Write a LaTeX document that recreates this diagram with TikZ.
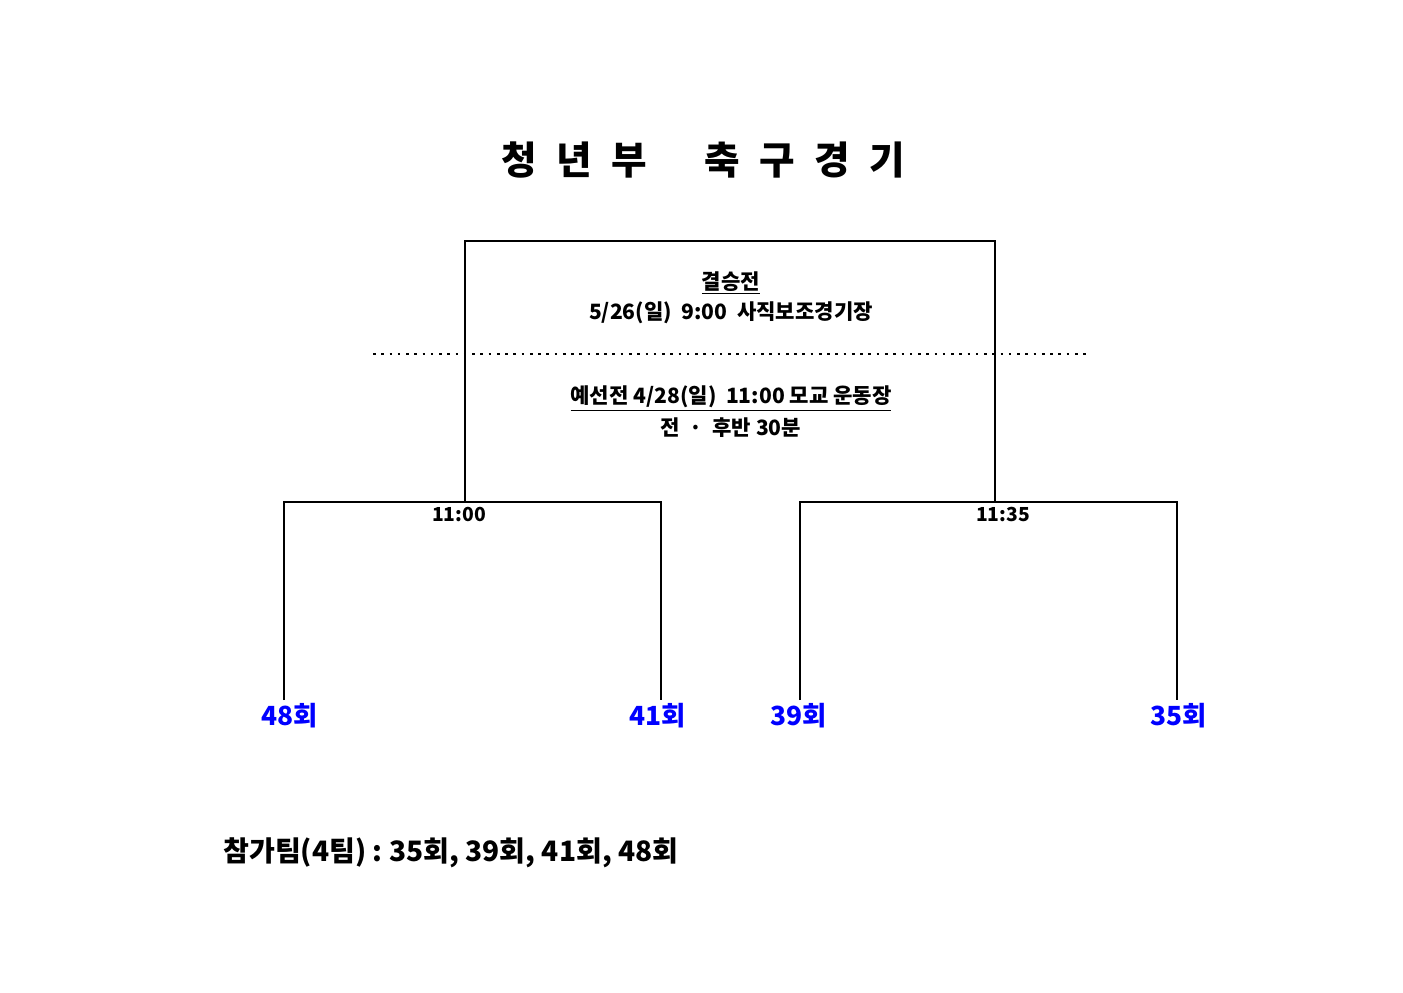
\documentclass[tikz,border=0pt]{standalone}
\usepackage{fontspec}
\setmainfont{Noto Sans CJK KR}
\usetikzlibrary{positioning}
\tikzset{
  line/.style={line width=1.2pt},
  info/.style={font=\bfseries\fontsize{12}{14}\selectfont, inner sep=1pt},
  team/.style={font=\bfseries\fontsize{15}{17}\selectfont, text=blue, inner sep=1pt},
  timelbl/.style={font=\bfseries\fontsize{11}{13}\selectfont, inner sep=1pt}
}
\newcommand{\gap}{\hspace{0.5em}}
\begin{document}
\begin{tikzpicture}[x=0.02cm,y=-0.02cm]
\useasboundingbox (0,0) rectangle (1403,992);
% title
\node[font=\bfseries\fontsize{22}{26}\selectfont] (title) at (703,160) {청\gap 년\gap 부\gap\gap\gap 축\gap 구\gap 경\gap 기};
% final
\coordinate (fl) at (465,241); \coordinate (fr) at (995,241);
\coordinate (fla) at (465,502); \coordinate (fra) at (995,502);
\draw[line] (fla) -- (fl) -- (fr) -- (fra);
\node[info] (final) at (731,283) {\underline{결승전}};
\node[info] (finalinfo) at (731,313) {5/26(일) \ 9:00 \ 사직보조경기장};
\coordinate (dl) at (373,354); \coordinate (dr) at (1088,354);
\draw[line width=1.5pt, dash pattern=on 1.5pt off 3.2pt] (dl) -- (dr);
\node[info] (prelim) at (731,399) {\underline{예선전 4/28(일) \ 11:00 모교 운동장}};
\node[info] (prelimtime) at (731,428) {전 \ · \ 후반 30분};
% semifinals
\coordinate (a1) at (284,502); \coordinate (a2) at (661,502);
\coordinate (b1) at (800,502); \coordinate (b2) at (1177,502);
\coordinate (a1d) at (284,700); \coordinate (a2d) at (661,700);
\coordinate (b1d) at (800,700); \coordinate (b2d) at (1177,700);
\draw[line] (a1d) -- (a1) -- (a2) -- (a2d);
\draw[line] (b1d) -- (b1) -- (b2) -- (b2d);
\node[timelbl] (timea) at (459,514) {11:00};
\node[timelbl] (timeb) at (1003,514) {11:35};
% teams
\node[team] (t48) at (290,716) {48회};
\node[team] (t41) at (658,716) {41회};
\node[team] (t39) at (799,716) {39회};
\node[team] (t35) at (1179,716) {35회};
% participants
\node[font=\bfseries\fontsize{16}{18}\selectfont, anchor=west, inner sep=0pt] (teams) at (223,853) {참가팀(4팀)\ :\ 35회,\ 39회,\ 41회,\ 48회};
\end{tikzpicture}
\end{document}
